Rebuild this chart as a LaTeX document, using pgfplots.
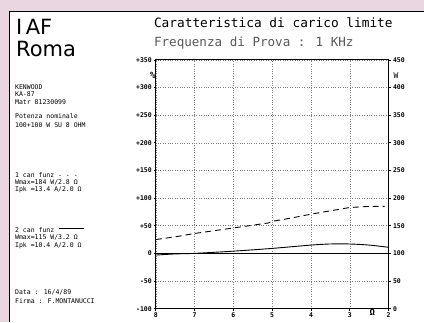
\documentclass[border=0pt]{standalone}
\usepackage{pgfplots}
\pgfplotsset{compat=1.18}
\usepackage{fontspec}
\setmainfont{DejaVu Sans}
\newfontfamily\plt{DejaVu Sans Mono}
\definecolor{pinkbg}{RGB}{234,214,224}
\begin{document}
\begin{tikzpicture}
\fill[pinkbg] (0pt,0pt) rectangle (424pt,322pt);
\fill[white] (10pt,0pt) rectangle (424pt,310pt);
\draw[line width=1pt] (10pt,0pt) -- (10pt,310pt) -- (424pt,310pt);
% header left
\node[anchor=west,inner sep=0pt,font=\fontsize{21}{23}\selectfont] at (16pt,295.5pt) {I\,AF};
\node[anchor=west,inner sep=0pt,font=\fontsize{21}{23}\selectfont] at (16pt,273pt) {Roma};
% titles
\node[anchor=west,inner sep=0pt,font=\plt\fontsize{12.8}{14}\selectfont] at (154pt,299pt) {Caratteristica di carico limite};
\node[anchor=west,inner sep=0pt,text=black!65,font=\plt\fontsize{12.6}{14}\selectfont] at (154pt,279pt) {Frequenza di Prova : 1 KHz};
% left info text
\begin{scope}[every node/.style={anchor=west,inner sep=0pt,font=\plt\fontsize{6.5}{7}\selectfont}]
\node at (15pt,235pt) {KENWOOD};
\node at (15pt,228pt) {KA-87};
\node at (15pt,220pt) {Matr  81230099};
\node at (15pt,206pt) {Potenza nominale};
\node at (15pt,197pt) {100+100 W SU 8 OHM};
\node at (15pt,147pt) {1 can  funz - - -};
\node at (15pt,139pt) {Wmax=184  W/2.8 Ω};
\node at (15pt,132pt) {Ipk =13.4 A/2.0 Ω};
\node at (15pt,92pt) {2 can  funz};
\node at (15pt,84pt) {Wmax=115  W/3.2 Ω};
\node at (15pt,76pt) {Ipk =10.4 A/2.0 Ω};
\node at (15pt,29pt) {Data  : 16/4/89};
\node at (15pt,21pt) {Firma : F.MONTANUCCI};
\end{scope}
\draw[line width=0.9pt] (59pt,93pt) -- (84pt,93pt);
% main axis
\begin{axis}[at={(156pt,13pt)}, anchor=south west, scale only axis,
  width=233pt, height=249pt,
  x dir=reverse, xmin=2, xmax=8, ymin=-100, ymax=350,
  xtick={2,3,4,5,6,7,8}, xticklabels={2,3,4,5,6,7,8},
  ytick={-100,-50,0,50,100,150,200,250,300,350},
  yticklabels={-100,-50,0,+50,+100,+150,+200,+250,+300,+350},
  xtick pos=bottom, ytick pos=left,
  tick align=outside, major tick length=2pt,
  axis line style={line width=0.9pt}, tick style={line width=0.8pt,black},
  grid=major, grid style={dotted, black!50, line width=0.5pt},
  /pgf/number format/assume math mode=true,
  ticklabel style={font=\plt\bfseries\fontsize{6.5}{7}\selectfont},
  yticklabel style={xshift=1.5pt},
  xticklabel style={yshift=1.5pt},
  clip=false]
\addplot[black, line width=0.9pt] coordinates {(8,0) (2,0)};
\addplot[black, line width=0.9pt, dash pattern=on 6pt off 4pt] coordinates {
 (8,25) (7.5,30) (7,36) (6,46) (5.1,55) (5,58) (4.5,64) (4,71) (3.5,77) (3,83) (2.5,85) (2.1,85)};
\addplot[black, line width=0.9pt, smooth] coordinates {
 (8,-3) (7.5,-1) (7,0) (6,4) (5,9) (4,15) (3.5,17) (3,17) (2.5,15) (2,11)};
\node[anchor=east,inner sep=0pt,font=\plt\bfseries\fontsize{9}{10}\selectfont] at (axis cs:8,322) {\%\hspace{2pt}};
\node[anchor=west,inner sep=0pt,font=\plt\fontsize{8}{10}\selectfont] at (axis cs:2,322) {\hspace{5pt}W};
\node[anchor=north,inner sep=0pt,font=\plt\bfseries\fontsize{9}{10}\selectfont] at (axis cs:2.42,-100) {Ω};
\end{axis}
\begin{axis}[at={(156pt,13pt)}, anchor=south west, scale only axis,
  width=233pt, height=249pt,
  xmin=2, xmax=8, ymin=0, ymax=450,
  axis x line=none, axis y line*=right,
  ytick={0,50,100,150,200,250,300,350,400,450},
  tick align=outside, major tick length=2pt,
  axis line style={line width=0.9pt}, tick style={line width=0.8pt,black},
  /pgf/number format/assume math mode=true,
  yticklabel style={font=\plt\bfseries\fontsize{6.5}{7}\selectfont, xshift=-1pt}]
\end{axis}
\end{tikzpicture}
\end{document}
